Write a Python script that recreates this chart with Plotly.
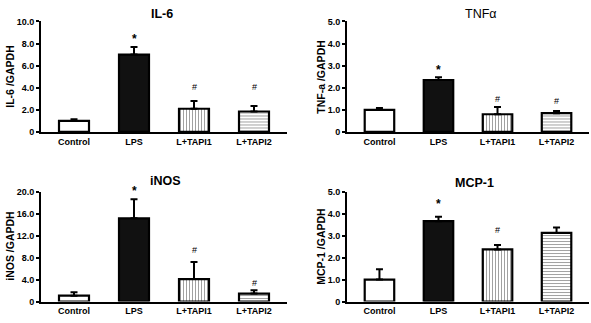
import plotly.graph_objects as go

W, H = 591, 323

categories = ["Control", "LPS", "L+TAPI1", "L+TAPI2"]

il6_vals = [1.0, 7.0, 2.1, 1.85]
il6_err = [0.15, 0.7, 0.7, 0.5]
tnf_vals = [1.0, 2.35, 0.8, 0.85]
tnf_err = [0.08, 0.12, 0.33, 0.1]
inos_vals = [1.06, 15.2, 4.1, 1.45]
inos_err = [0.65, 3.5, 3.1, 0.6]
mcp_vals = [1.0, 3.67, 2.38, 3.13]
mcp_err = [0.47, 0.2, 0.2, 0.25]

sig_labels = {
    "IL-6": ["", "*", "#", "#"],
    "TNFα": ["", "*", "#", "#"],
    "iNOS": ["", "*", "#", "#"],
    "MCP-1": ["", "*", "#", ""],
}
sig_y = {
    "IL-6": [0, 8.6, 4.1, 4.1],
    "TNFα": [0, 2.9, 1.5, 1.4],
    "iNOS": [0, 20.6, 9.5, 3.4],
    "MCP-1": [0, 4.55, 3.25, 0],
}

y_ticks = {
    "IL-6": ([0, 2, 4, 6, 8, 10], ["0", "2.0", "4.0", "6.0", "8.0", "10.0"]),
    "TNFα": ([0, 1, 2, 3, 4, 5], ["0", "1.0", "2.0", "3.0", "4.0", "5.0"]),
    "iNOS": ([0, 4, 8, 12, 16, 20], ["0", "4.0", "8.0", "12.0", "16.0", "20.0"]),
    "MCP-1": ([0, 1, 2, 3, 4, 5], ["0", "1.0", "2.0", "3.0", "4.0", "5.0"]),
}
y_titles = {"IL-6": "IL-6 /GAPDH", "TNFα": "TNF-a /GAPDH",
            "iNOS": "iNOS /GAPDH", "MCP-1": "MCP-1 /GAPDH"}

bar_colors = ["white", "#111111", "white", "white"]
bar_patterns = ["", "", "|", "-"]
pattern_fg = ["black", "black", "#888888", "black"]

panels = [
    ("IL-6", il6_vals, il6_err, 1),
    ("TNFα", tnf_vals, tnf_err, 2),
    ("iNOS", inos_vals, inos_err, 3),
    ("MCP-1", mcp_vals, mcp_err, 4),
]

# pixel layout (x0, x1, ytop, ybottom), title centre, y-title x
px = {
    1: dict(x=(41, 287), y=(17, 131), title=(162, 9), ytx=10),
    2: dict(x=(347, 589), y=(17, 131), title=(481, 9), ytx=321),
    3: dict(x=(41, 287), y=(193, 306), title=(166, 182), ytx=10),
    4: dict(x=(347, 589), y=(193, 306), title=(474, 184), ytx=321),
}

FONT = "Liberation Sans, Arial, sans-serif"

fig = go.Figure()
annotations = []

for name, vals, errs, i in panels:
    sfx = "" if i == 1 else str(i)
    p = px[i]
    fig.add_trace(go.Bar(
        x=categories, y=vals,
        xaxis="x" + sfx, yaxis="y" + sfx,
        marker=dict(color=bar_colors,
                    line=dict(color="black", width=2.2),
                    pattern=dict(shape=bar_patterns, fgcolor=pattern_fg,
                                 bgcolor="white", size=3, solidity=0.35,
                                 fillmode="overlay")),
        error_y=dict(type="data", array=errs, arrayminus=[0] * 4,
                     symmetric=False, color="black", thickness=2, width=3.5),
        showlegend=False, hoverinfo="skip",
    ))
    tv, tt = y_ticks[name]
    xd = [p["x"][0] / W, p["x"][1] / W]
    yd = [1 - p["y"][1] / H, 1 - p["y"][0] / H]
    fig.update_layout(**{
        "xaxis" + sfx: dict(domain=xd, anchor="y" + sfx, range=[-0.55, 3.55],
                            showline=True, linewidth=2, linecolor="black",
                            ticks="", showgrid=False, zeroline=False,
                            tickfont=dict(family=FONT, size=9, color="black", weight="bold")),
        "yaxis" + sfx: dict(domain=yd, anchor="x" + sfx, range=[0, tv[-1]],
                            showline=True, linewidth=2, linecolor="black",
                            ticks="outside", ticklen=3, tickwidth=2, tickcolor="black",
                            tickvals=tv, ticktext=tt, showgrid=False, zeroline=False,
                            tickfont=dict(family=FONT, size=9, color="black", weight="bold")),
    })
    # panel title
    annotations.append(dict(
        text=name, x=p["title"][0] / W, y=1 - p["title"][1] / H,
        xref="paper", yref="paper", xanchor="center", yanchor="middle",
        showarrow=False,
        font=dict(family=FONT, size=12.5, color="black",
                  weight="normal" if name == "TNFα" else "bold")))
    # y title
    annotations.append(dict(
        text=y_titles[name], x=p["ytx"] / W,
        y=1 - (p["y"][0] + p["y"][1]) / 2 / H,
        xref="paper", yref="paper", xanchor="center", yanchor="middle",
        textangle=-90, showarrow=False,
        font=dict(family=FONT, size=10.5, color="black", weight="bold")))
    # significance marks
    ymax = tv[-1]
    ppu = (p["y"][1] - p["y"][0]) / ymax
    for c, lab, yy in zip(categories, sig_labels[name], sig_y[name]):
        if lab:
            shift = -2 if lab == "*" else 0
            ypos = yy
            if yy > ymax:
                shift += (yy - ymax) * ppu
                ypos = ymax
            annotations.append(dict(
                text=lab, x=c, y=ypos, xref="x" + sfx, yref="y" + sfx,
                xanchor="center", yanchor="middle", showarrow=False,
                yshift=shift,
                font=dict(family=FONT, size=12 if lab == "*" else 9,
                          color="black", weight="bold" if lab == "*" else "normal")))

fig.update_layout(
    width=W, height=H, margin=dict(l=0, r=0, t=0, b=0),
    paper_bgcolor="white", plot_bgcolor="white",
    bargap=0.5, annotations=annotations,
    font=dict(family=FONT, color="black"),
)

fig.write_html("out.html")
